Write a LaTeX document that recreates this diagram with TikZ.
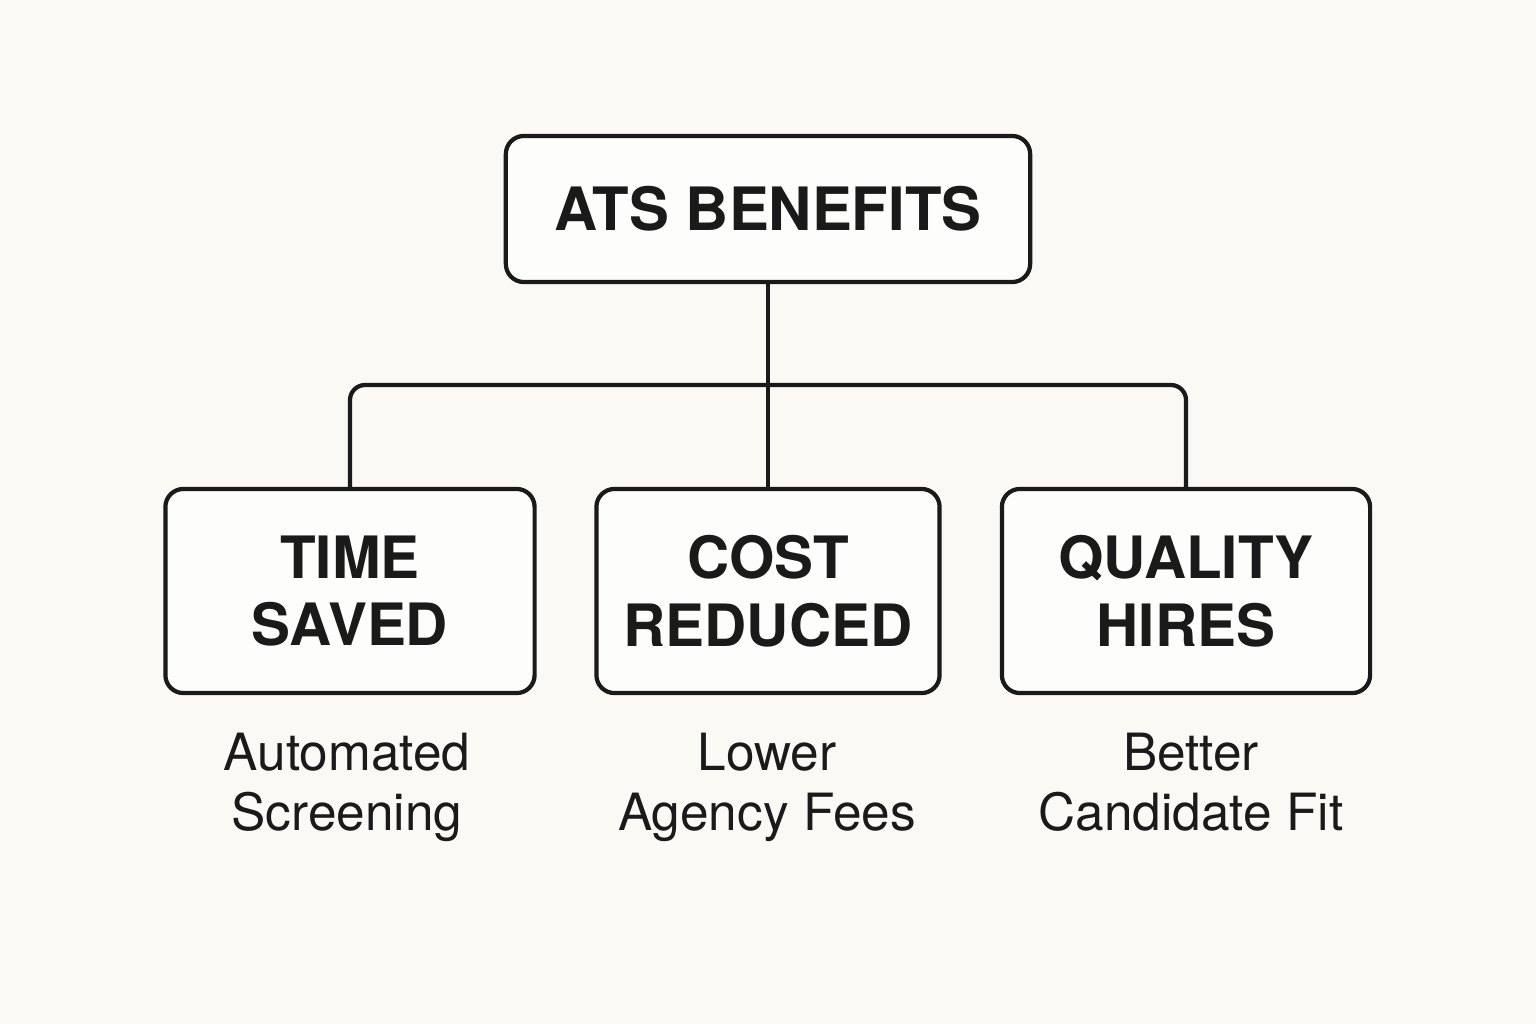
\documentclass[tikz,border=0pt]{standalone}
\usepackage{fontspec}
\setmainfont{TeX Gyre Heros}
\begin{document}
\begin{tikzpicture}[x=0.01cm, y=-0.01cm, thick]

  % Define Colors
  \definecolor{paper}{HTML}{FAF9F5}
  \definecolor{boxfill}{HTML}{FDFDFB}
  \definecolor{ink}{HTML}{1A1A1A}

  % Node styles
  \tikzstyle{headbox}=[rectangle, draw=ink, line width=1.2pt, fill=boxfill, rounded corners=0.18cm, text=ink, font=\fontsize{17}{21}\selectfont\bfseries, minimum width=5.24cm, minimum height=1.46cm]
  \tikzstyle{catbox}=[rectangle, draw=ink, line width=1.2pt, fill=boxfill, rounded corners=0.18cm, text=ink, align=center, font=\fontsize{16.6}{19.3}\selectfont\bfseries, minimum height=2.04cm]
  \tikzstyle{note}=[text=ink, align=center, anchor=base, font=\fontsize{14.6}{17}\selectfont]
  \tikzstyle{link}=[draw=ink, line width=1.2pt, rounded corners=0.15cm]

  % Background
  \fill[paper] (0,0) rectangle (1536,1024);
  \useasboundingbox (0,0) rectangle (1536,1024);

  % Nodes
  \node[headbox] (n_ats) at (768,209) {ATS BENEFITS};

  \node[catbox, minimum width=3.69cm] (n_time) at (350,591) {TIME\\SAVED};
  \node[catbox, minimum width=3.43cm] (n_cost) at (768,591) {COST\\REDUCED};
  \node[catbox, minimum width=3.68cm] (n_qual) at (1186,591) {QUALITY\\HIRES};

  \coordinate (bus) at (768,385);

  % Links
  \draw[link] (n_ats.south) -- (n_cost.north);
  \draw[link] (n_time.north) |- (bus) -| (n_qual.north);

  % Notes
  \node[note] (t_time) at (347,830) {Automated\\Screening};
  \node[note] (t_cost) at (767,830) {Lower\\Agency Fees};
  \node[note] (t_qual) at (1191,830) {Better\\Candidate Fit};

\end{tikzpicture}
\end{document}
